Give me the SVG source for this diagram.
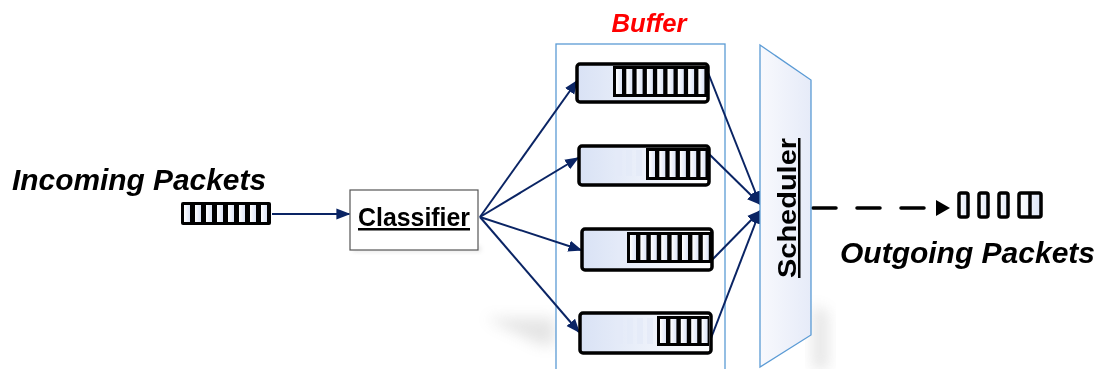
<svg xmlns="http://www.w3.org/2000/svg" width="1101" height="369" viewBox="0 0 1101 369">
<style>
.lbl{font-family:"Liberation Sans",Arial,sans-serif;font-weight:bold;font-style:italic;fill:#000}
.ul{font-family:"Liberation Sans",Arial,sans-serif;font-weight:bold;fill:#000;text-decoration:underline}
.conn{stroke:#0a2464;stroke-width:2;fill:none}
.q{stroke:#000;stroke-width:3.5;fill:url(#qg)}
.blk{fill:#000}
.cell{fill:url(#cg)}
.fade{fill:#e3eaf7;opacity:0.8}
</style>
<defs>
<linearGradient id="qg" x1="0" y1="0" x2="1" y2="0">
<stop offset="0" stop-color="#d9e2f5"/>
<stop offset="1" stop-color="#ffffff"/>
</linearGradient>
<linearGradient id="cg" x1="0" y1="0" x2="1" y2="0">
<stop offset="0" stop-color="#ffffff"/>
<stop offset="1" stop-color="#dce4f6"/>
</linearGradient>
<linearGradient id="sg" x1="0" y1="0" x2="1" y2="0">
<stop offset="0" stop-color="#f8f9fd"/>
<stop offset="1" stop-color="#e6ebf8"/>
</linearGradient>
<marker id="ahb" viewBox="0 0 10 10" refX="9" refY="5" markerWidth="14" markerHeight="14" orient="auto" markerUnits="userSpaceOnUse">
<path d="M0,1 L10,5 L0,9 z" fill="#0a2464"/>
</marker>
<filter id="blur" x="-50%" y="-50%" width="200%" height="200%"><feGaussianBlur stdDeviation="7"/></filter>
<filter id="sblur" x="-20%" y="-50%" width="140%" height="200%"><feGaussianBlur stdDeviation="2"/></filter>
</defs>
<rect width="1101" height="369" fill="#ffffff"/>

<g id="shadows" opacity="0.22">
<path d="M485,318 L555,318 L555,345 L540,345 Z" fill="#8a8a8a" filter="url(#blur)"/>
<path d="M813,305 L828,312 L828,369 L813,369 Z" fill="#8a8a8a" filter="url(#blur)"/>
<rect x="353" y="246" width="128" height="6" fill="#999" filter="url(#sblur)"/>
</g>

<g id="incoming">
<text class="lbl" x="12" y="190" font-size="29" textLength="254" lengthAdjust="spacingAndGlyphs">Incoming Packets</text>
<rect x="181" y="202" width="90" height="23" rx="2" class="blk"/>
<rect x="184" y="205" width="6" height="17" class="cell"/>
<rect x="195" y="205" width="6" height="17" class="cell"/>
<rect x="206" y="205" width="6" height="17" class="cell"/>
<rect x="217" y="205" width="6" height="17" class="cell"/>
<rect x="228" y="205" width="6" height="17" class="cell"/>
<rect x="239" y="205" width="6" height="17" class="cell"/>
<rect x="250" y="205" width="6" height="17" class="cell"/>
<rect x="261" y="205" width="6" height="17" class="cell"/>
</g>

<g id="classifier">
<rect x="350" y="190" width="128" height="60" fill="#fff" stroke="#555" stroke-width="1.2"/>
<text class="ul" x="414" y="226" font-size="25" text-anchor="middle" textLength="112" lengthAdjust="spacingAndGlyphs">Classifier</text>
</g>

<g id="buffer">
<rect x="556" y="44" width="169" height="340" fill="#fff" stroke="#5b9bd5" stroke-width="1.3"/>
<text x="649" y="32" font-family="Liberation Sans, Arial, sans-serif" font-weight="bold" font-style="italic" font-size="26" fill="#ff0000" text-anchor="middle" textLength="75" lengthAdjust="spacingAndGlyphs">Buffer</text>
</g>

<g id="connectors">
<line class="conn" x1="272" y1="214" x2="349" y2="214" marker-end="url(#ahb)"/>
<line class="conn" x1="480" y1="217" x2="577" y2="81" marker-end="url(#ahb)"/>
<line class="conn" x1="480" y1="217" x2="578" y2="158" marker-end="url(#ahb)"/>
<line class="conn" x1="480" y1="217" x2="581" y2="250" marker-end="url(#ahb)"/>
<line class="conn" x1="480" y1="217" x2="579" y2="332" marker-end="url(#ahb)"/>
<line class="conn" x1="707" y1="70" x2="760" y2="204" marker-end="url(#ahb)"/>
<line class="conn" x1="707" y1="152" x2="760" y2="204" marker-end="url(#ahb)"/>
<line class="conn" x1="710" y1="262" x2="760" y2="211" marker-end="url(#ahb)"/>
<line class="conn" x1="708" y1="346" x2="760" y2="211" marker-end="url(#ahb)"/>
<line x1="813" y1="208" x2="938" y2="208" stroke="#000" stroke-width="3.5" stroke-dasharray="23 21" stroke-linecap="round"/>
<path d="M936,200 L950,208 L936,216 Z" fill="#000"/>
</g>

<g id="queue1">
<rect x="577" y="64" width="131" height="38" rx="3" class="q"/>
<rect x="613" y="66" width="94" height="31" class="blk"/>
<rect x="616" y="69" width="6" height="25" class="cell"/>
<rect x="626.3" y="69" width="6" height="25" class="cell"/>
<rect x="636.6" y="69" width="6" height="25" class="cell"/>
<rect x="646.9" y="69" width="6" height="25" class="cell"/>
<rect x="657.2" y="69" width="6" height="25" class="cell"/>
<rect x="667.5" y="69" width="6" height="25" class="cell"/>
<rect x="677.8" y="69" width="6" height="25" class="cell"/>
<rect x="688.1" y="69" width="6" height="25" class="cell"/>
<rect x="698.4" y="69" width="6" height="25" class="cell"/>
</g>

<g id="queue2">
<rect x="579" y="146" width="130" height="39" rx="3" class="q"/>
<rect x="616" y="150" width="6" height="26" class="fade"/>
<rect x="626" y="150" width="6" height="26" class="fade"/>
<rect x="636" y="150" width="6" height="26" class="fade"/>
<rect x="646" y="148" width="62" height="32" class="blk"/>
<rect x="649" y="151" width="6" height="26" class="cell"/>
<rect x="659.3" y="151" width="6" height="26" class="cell"/>
<rect x="669.6" y="151" width="6" height="26" class="cell"/>
<rect x="679.9" y="151" width="6" height="26" class="cell"/>
<rect x="690.2" y="151" width="6" height="26" class="cell"/>
<rect x="700.5" y="151" width="5" height="26" class="cell"/>
</g>

<g id="queue3">
<rect x="582" y="229" width="130" height="41" rx="3" class="q"/>
<rect x="618" y="234" width="7" height="27" class="fade"/>
<rect x="627" y="232" width="84" height="31" class="blk"/>
<rect x="630" y="235" width="6" height="25" class="cell"/>
<rect x="640.4" y="235" width="6" height="25" class="cell"/>
<rect x="650.8" y="235" width="6" height="25" class="cell"/>
<rect x="661.2" y="235" width="6" height="25" class="cell"/>
<rect x="671.6" y="235" width="6" height="25" class="cell"/>
<rect x="682" y="235" width="6" height="25" class="cell"/>
<rect x="692.4" y="235" width="6" height="25" class="cell"/>
<rect x="702.8" y="235" width="6" height="25" class="cell"/>
</g>

<g id="queue4">
<rect x="580" y="313" width="131" height="40" rx="3" class="q"/>
<rect x="617" y="318" width="6" height="26" class="fade"/>
<rect x="627" y="318" width="6" height="26" class="fade"/>
<rect x="637" y="318" width="6" height="26" class="fade"/>
<rect x="647" y="318" width="6" height="26" class="fade"/>
<rect x="657" y="316" width="52" height="30" class="blk"/>
<rect x="660" y="319" width="6" height="24" class="cell"/>
<rect x="670.4" y="319" width="6" height="24" class="cell"/>
<rect x="680.8" y="319" width="6" height="24" class="cell"/>
<rect x="691.2" y="319" width="6" height="24" class="cell"/>
<rect x="701.6" y="319" width="6" height="24" class="cell"/>
</g>

<g id="scheduler">
<path d="M760,45 L811,80 L811,335 L760,367 Z" fill="url(#sg)" stroke="#5b9bd5" stroke-width="1.3"/>
<text class="ul" transform="translate(796,208) rotate(-90)" x="0" y="0" font-size="25" text-anchor="middle" textLength="140" lengthAdjust="spacingAndGlyphs">Scheduler</text>
</g>

<g id="outgoing">
<rect x="959" y="193" width="9" height="24" rx="2" fill="url(#cg)" stroke="#000" stroke-width="3.5"/>
<rect x="979" y="193" width="9" height="24" rx="2" fill="url(#cg)" stroke="#000" stroke-width="3.5"/>
<rect x="999" y="193" width="9" height="24" rx="2" fill="url(#cg)" stroke="#000" stroke-width="3.5"/>
<rect x="1019" y="193" width="22" height="24" rx="2" fill="url(#cg)" stroke="#000" stroke-width="3.5"/>
<line x1="1030" y1="193" x2="1030" y2="217" stroke="#000" stroke-width="3.5"/>
<text class="lbl" x="840" y="263" font-size="29" textLength="255" lengthAdjust="spacingAndGlyphs">Outgoing Packets</text>
</g>
</svg>
